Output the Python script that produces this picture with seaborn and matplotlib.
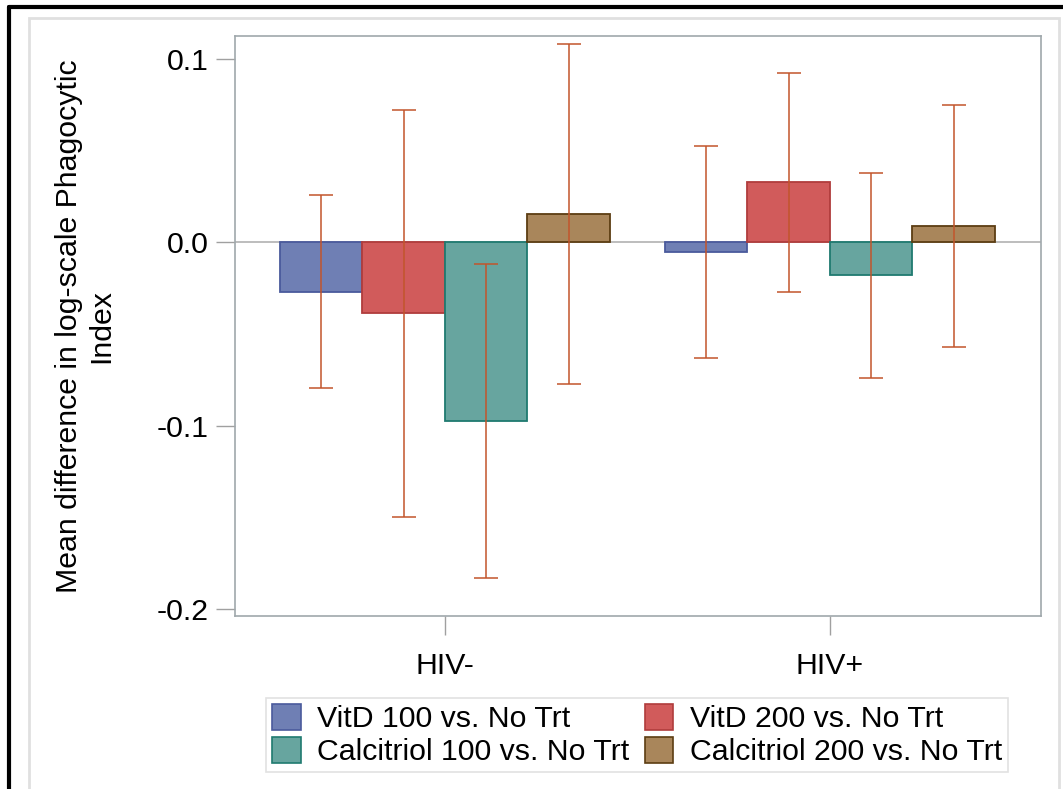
import matplotlib
matplotlib.use("Agg")
import matplotlib.pyplot as plt
import seaborn as sns
import pandas as pd
import numpy as np
from matplotlib.lines import Line2D
from matplotlib.patches import Rectangle

groups = ["HIV-", "HIV+"]
treatments = ["VitD 100 vs. No Trt", "VitD 200 vs. No Trt",
              "Calcitriol 100 vs. No Trt", "Calcitriol 200 vs. No Trt"]
mean_hivneg = [-0.0273, -0.0387, -0.0977, 0.0153]
lower_hivneg = [-0.0797, -0.1500, -0.1833, -0.0775]
upper_hivneg = [0.0256, 0.0720, -0.0120, 0.1080]
mean_hivpos = [-0.0055, 0.0327, -0.0180, 0.0087]
lower_hivpos = [-0.0633, -0.0273, -0.0742, -0.0573]
upper_hivpos = [0.0524, 0.0922, 0.0376, 0.0747]

fills = ["#6F7FB4", "#D15B5B", "#67A59F", "#A9865B"]
edges = ["#4A5A9C", "#B03C3C", "#1F7A70", "#5C3D12"]
err_color = "#C2552B"

rows = []
for g, m, lo, hi in [(groups[0], mean_hivneg, lower_hivneg, upper_hivneg),
                     (groups[1], mean_hivpos, lower_hivpos, upper_hivpos)]:
    for t, mv, l, h in zip(treatments, m, lo, hi):
        rows.append(dict(group=g, trt=t, mean=mv, lo=l, hi=h))
df = pd.DataFrame(rows)

sns.set_theme(style="white")
plt.rcParams['font.family'] = ['Liberation Sans', 'DejaVu Sans']

FS = 21.8
fig = plt.figure(figsize=(10.63, 7.89), dpi=100)
ax = fig.add_axes([235/1063, 1-616/789, (1041-235)/1063, (616-36)/789])

sns.barplot(data=df, x="group", y="mean", hue="trt", order=groups,
            hue_order=treatments, palette=fills, width=0.857, errorbar=None,
            saturation=1, ax=ax, legend=True, zorder=2)

nb = len(groups)
for i, p in enumerate(ax.patches[:nb * len(treatments)]):
    h = i // nb
    p.set_edgecolor(edges[h])
    p.set_linewidth(1.3)

ax.axhline(0, color="#B8B8B8", lw=1.3, zorder=1)

for i, p in enumerate(ax.patches[:nb * len(treatments)]):
    h = i // nb
    gi = i % nb
    row = df[(df.group == groups[gi]) & (df.trt == treatments[h])].iloc[0]
    xc = p.get_x() + p.get_width() / 2
    ax.errorbar([xc], [row["mean"]],
                yerr=[[row["mean"] - row["lo"]], [row["hi"] - row["mean"]]],
                fmt="none", ecolor=err_color, elinewidth=1.1, capsize=8.5,
                capthick=1.1, zorder=3)

ax.set_xlim(-0.545, 1.548)
ax.set_ylim(-0.2038, 0.1125)
ax.set_yticks([-0.2, -0.1, 0.0, 0.1])
ax.set_yticklabels(["-0.2", "-0.1", "0.0", "0.1"])
ax.set_xlabel("")
ax.set_ylabel("Mean difference in log-scale Phagocytic\nIndex", fontsize=FS,
              color="black", linespacing=1.2)
ax.yaxis.set_label_coords(-0.148, 0.5)
ax.tick_params(axis="both", which="both", direction="out", length=14,
               width=1, color="#A0A0A0", labelsize=FS, labelcolor="black",
               pad=5, left=True, bottom=True)
ax.tick_params(axis="x", pad=12)
for s in ax.spines.values():
    s.set_color("#A0A8AC")
    s.set_linewidth(1.2)

handles, labels = ax.get_legend_handles_labels()
order = [0, 2, 1, 3]
leg = ax.legend([handles[k] for k in order], [labels[k] for k in order],
                ncol=2, loc="center",
                bbox_to_anchor=(268/1063, 1-773/789, (1006-268)/1063, (773-697)/789),
                bbox_transform=fig.transFigure,
                frameon=True, fontsize=FS, handlelength=0.95, handleheight=0.95,
                handletextpad=0.55, columnspacing=0.5, labelspacing=0.12,
                borderpad=0.2, fancybox=False, borderaxespad=0)
leg.get_frame().set_edgecolor("#DADADA")
leg.get_frame().set_linewidth(1.2)
for t in leg.get_texts():
    t.set_color("black")
for hnd, k in zip(leg.legend_handles, order):
    hnd.set_edgecolor(edges[k])
    hnd.set_linewidth(1.2)

fig.add_artist(Rectangle((29/1063, -0.01), (1059-29)/1063, 1-18/789 + 0.01,
                         transform=fig.transFigure, fill=False,
                         edgecolor="#E0E0E0", lw=2))
fig.add_artist(Line2D([9/1063, 1.0], [1-7/789, 1-7/789], transform=fig.transFigure,
                      color="black", lw=3))
fig.add_artist(Line2D([9/1063, 9/1063], [0, 1-7/789], transform=fig.transFigure,
                      color="black", lw=3))

fig.savefig("out.png", dpi=100)
